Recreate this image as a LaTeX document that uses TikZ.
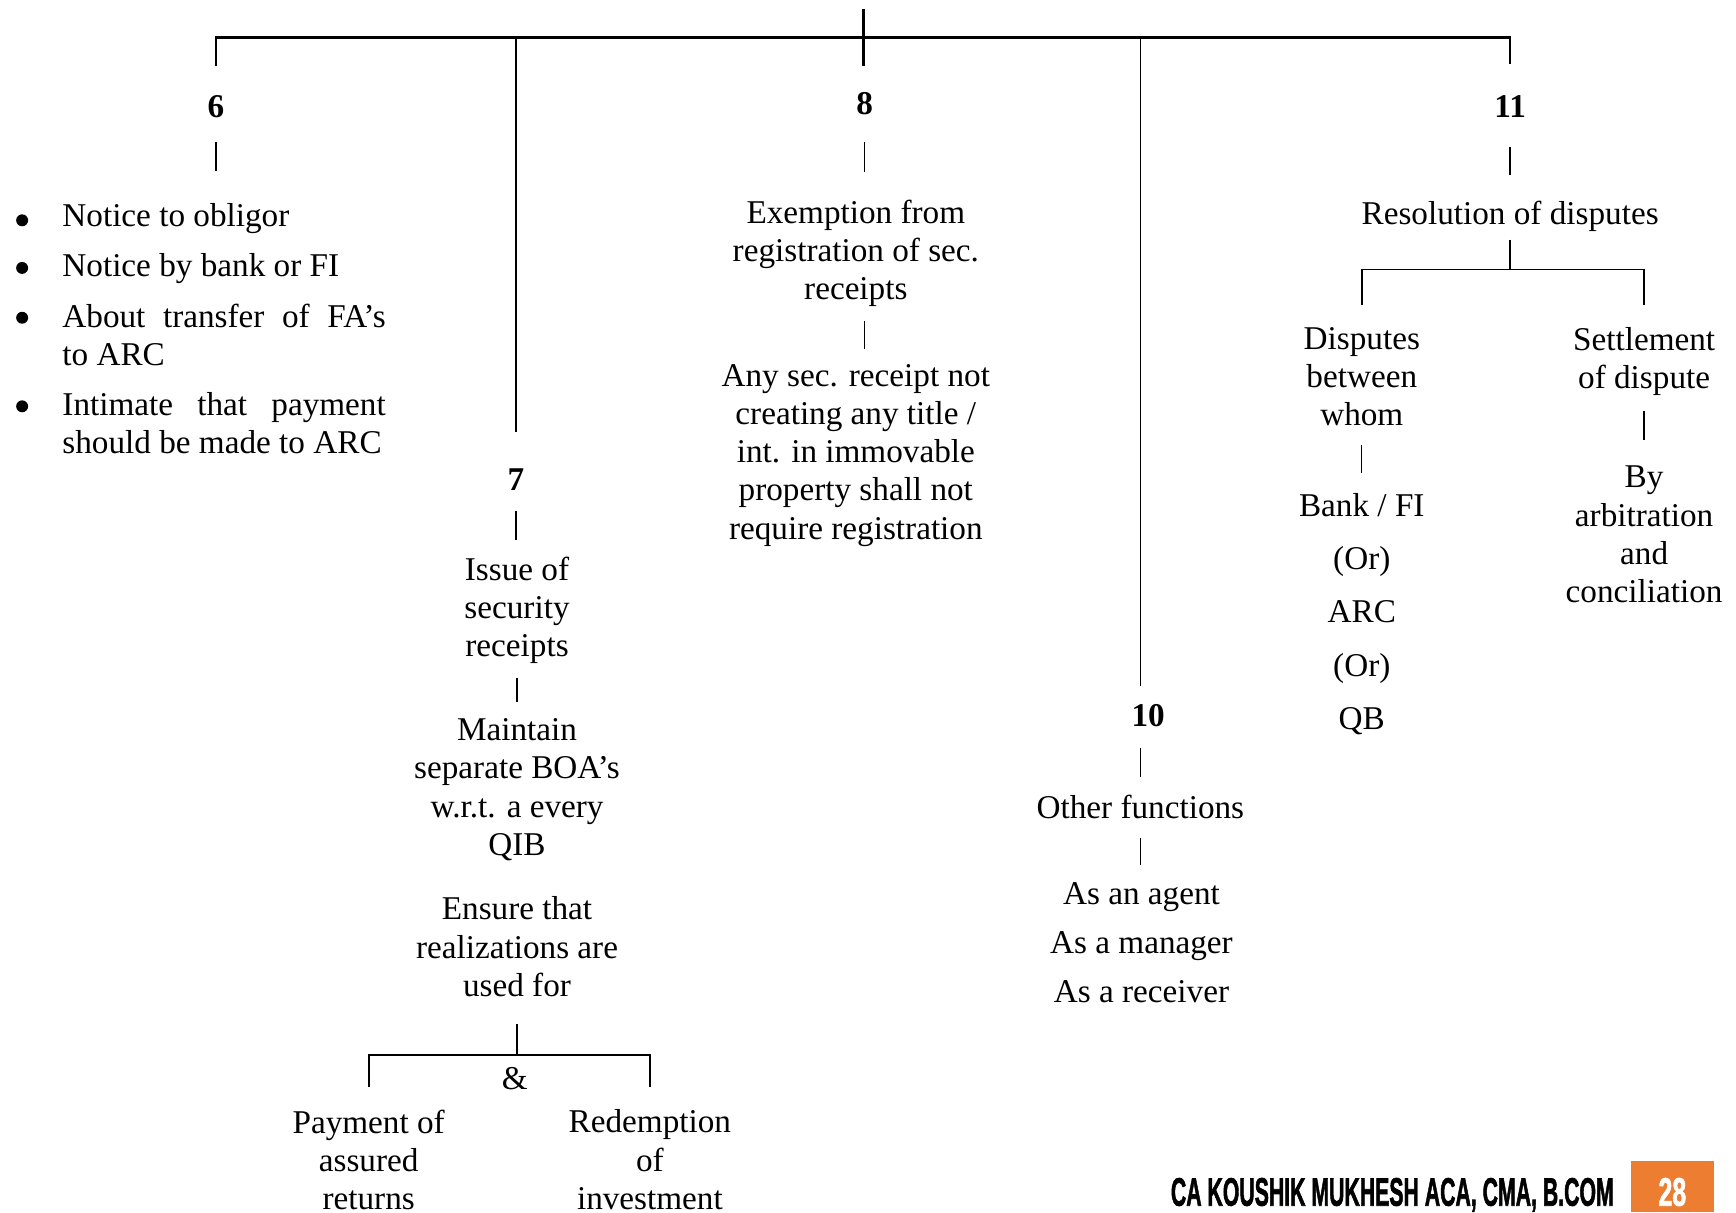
\documentclass[tikz,border=0pt]{standalone}
\usepackage{fontspec}
\usepackage{graphicx}
\setmainfont{Liberation Serif}
\newfontfamily\footfont{Liberation Sans}[FakeBold=2]
\usetikzlibrary{calc}

\definecolor{pageorange}{RGB}{237,125,49}

\tikzset{
  txt/.style={inner sep=0pt, align=center, font=\fontsize{15}{17.25}\selectfont},
  num/.style={inner sep=0pt, font=\fontsize{15}{17.25}\selectfont\bfseries},
  itm/.style={inner sep=0pt, anchor=west, text width=146pt, align=justify,
              font=\fontsize{15}{17.25}\selectfont},
  bar/.style={line width=1.1pt},
  fork/.style={line width=0.8pt},
  trunk/.style={line width=0.7pt},
  link/.style={line width=0.6pt},
}

\begin{document}
\begin{tikzpicture}[x=0.5pt,y=0.5pt,yscale=-1,xscale=1]
\useasboundingbox (0,0) rectangle (1568,1095);

% Branch numbers
\node[num] (num6)  at (195,96)   {6};
\node[num] (num8)  at (781,94)   {8};
\node[num] (num11) at (1364,96)  {11};
\node[num] (num7)  at (466,433)  {7};
\node[num] (num10) at (1037,646) {10};

\coordinate (head) at (780,8);
\coordinate (hub)  at (780,34);

% Branch 6
\node[itm] (it1) at (56,197.8) {Notice to obligor};
\node[itm] (it2) at (56,242.8) {Notice by bank or FI};
\node[itm] (it3) at (56,302.5) {About transfer of FA’s\linebreak to ARC};
\node[itm] (it4) at (56,382.5) {Intimate that payment\linebreak should be made to ARC};
\foreach \y in {199,242,287,367}
  \fill (20,\y) circle[radius=2.7pt];

% Branch 8
\node[txt] (ex8)  at (773,228.8) {Exemption from\\registration of sec.\\receipts};
\node[txt] (any8) at (773,411.2) {Any sec. receipt not\\creating any title /\\int. in immovable\\property shall not\\require registration};

% Branch 7
\node[txt] (iss7) at (467,551.5)  {Issue of\\security\\receipts};
\node[txt] (mnt7) at (467,713.3)  {Maintain\\separate BOA’s\\w.r.t. a every\\QIB};
\node[txt] (ens7) at (467,855.2)  {Ensure that\\realizations are\\used for};
\node[txt] (amp7) at (465,974)    {\&};
\node[txt] (pay7) at (333,1047.5) {Payment of\\assured\\returns};
\node[txt] (red7) at (587,1047.5) {Redemption\\of\\investment};

% Branch 10
\node[txt] (ot10) at (1030,728.5) {Other functions};
\node[txt] (as10) at (1031,851.5) {As an agent\\[4.75pt]As a manager\\[4.75pt]As a receiver};

% Branch 11
\node[txt] (res11) at (1364,195.8) {Resolution of disputes};
\node[txt] (dis11) at (1230,340.2) {Disputes\\between\\whom};
\node[txt] (set11) at (1485,326.3) {Settlement\\of dispute};
\node[txt] (who11) at (1230,554.7) {Bank / FI\\[6.75pt](Or)\\[6.75pt]ARC\\[6.75pt](Or)\\[6.75pt]QB};
\node[txt] (arb11) at (1485,482.8) {By\\arbitration\\and\\conciliation};

% Main tree
\draw[bar] ($(num6.north)-(0,25.5)$) |- (hub) -| ($(num11.north)-(0,27.5)$);
\draw[bar] (head) -- ($(head |- num8.north)-(0,23.5)$);
\draw[trunk] (hub -| num7.north) -- ($(num7.north)-(0,32.5)$);
\draw[trunk] (hub -| ot10.north) -- ($(ot10.north |- num10.north)-(0,15.5)$);

% Links inside the branches
\draw[link] ($(num6.south)+(0,21.5)$) -- ($(num6.south |- it1.north)-(0,29)$);
\draw[link] ($(num8.south)+(0,23.5)$) -- ($(num8.south |- ex8.north)-(0,25)$);
\draw[link] ($(num8.south |- ex8.south)+(0,12.4)$) -- ($(num8.south |- any8.north)-(0,13)$);
\draw[link] ($(num7.south)+(0,18.5)$) -- ($(num7.south |- iss7.north)-(0,15)$);
\draw[link] ($(iss7.south)+(0,12.4)$) -- ($(mnt7.north)-(0,15)$);
\draw[link] ($(ens7.south)+(0,24)$) -- ($(ens7.south)+(0,52)$) coordinate (fork7);
\draw[fork] ($(pay7.north)-(0,20)$) |- (fork7) -| ($(red7.north)-(0,20)$);
\draw[link] ($(ot10.south |- num10.south)+(0,19.5)$) -- ($(ot10.north)-(0,16)$);
\draw[link] ($(ot10.south)+(0,17)$) -- ($(ot10.south |- as10.north)-(0,16)$);
\draw[link] ($(num11.south)+(0,26.5)$) -- ($(num11.south |- res11.north)-(0,24)$);
\draw[link] ($(res11.south)+(0,6.4)$) -- ($(res11.south)+(0,33.4)$) coordinate (fork11);
\draw[fork] ($(dis11.north)-(0,20)$) |- (fork11) -| ($(set11.north)-(0,20)$);
\draw[link] ($(dis11.south)+(0,17)$) -- ($(dis11.south |- who11.north)-(0,18)$);
\draw[link] ($(set11.south)+(0,13.4)$) -- ($(set11.south |- arb11.north)-(0,23)$);

% Footer
\node[anchor=base east, inner sep=0pt] (foot) at (1458,1089)
  {\resizebox{200pt}{12.5pt}{\footfont\bfseries CA KOUSHIK MUKHESH ACA, CMA, B.COM}};
\fill[pageorange] (1473,1049) rectangle (1548,1095);
\node[anchor=base, inner sep=0pt, text=white] (page) at (1510.5,1089)
  {\resizebox{12.5pt}{12.5pt}{\footfont\bfseries 28}};

\end{tikzpicture}
\end{document}
